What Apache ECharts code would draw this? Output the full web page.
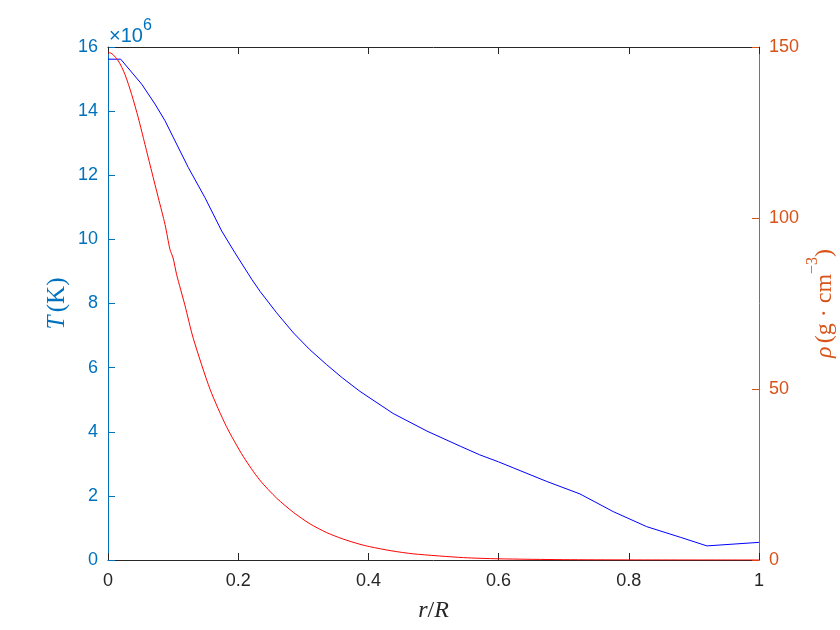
<!DOCTYPE html>
<html>
<head>
<meta charset="utf-8">
<script src="https://cdn.jsdelivr.net/npm/echarts@6/dist/echarts.min.js"></script>
<style>html,body{margin:0;padding:0;background:#fff}#c{width:840px;height:630px}</style>
</head>
<body>
<div id="c"></div>
<script>
// Temperature profile: r/R and T in units of 10^6 K
const rT = [0, 0.0195, 0.0518, 0.0722, 0.0876, 0.103, 0.1234, 0.149, 0.1747, 0.195, 0.221, 0.2335, 0.259, 0.285, 0.310, 0.336, 0.36, 0.387, 0.438, 0.49, 0.541, 0.571, 0.6, 0.623, 0.674, 0.725, 0.776, 0.8275, 0.879, 0.92, 1.0];
const T6 = [15.62, 15.62, 14.84, 14.22, 13.7, 13.07, 12.24, 11.3, 10.26, 9.58, 8.75, 8.38, 7.71, 7.08, 6.56, 6.09, 5.68, 5.26, 4.57, 4.02, 3.55, 3.28, 3.06, 2.87, 2.45, 2.06, 1.51, 1.04, 0.71, 0.44, 0.55];
// Density profile: r/R and rho in g cm^-3
const rRho = [0, 0.003, 0.0159, 0.026, 0.0364, 0.0465, 0.0568, 0.067, 0.0773, 0.0876, 0.0952, 0.1, 0.1055, 0.118, 0.131, 0.157, 0.182, 0.208, 0.233, 0.259, 0.285, 0.310, 0.336, 0.36, 0.387, 0.402, 0.435, 0.469, 0.546, 0.6, 0.7, 0.8, 0.9, 1.0];
const rho = [148.3, 148.3, 145.9, 142, 136.1, 129.3, 121.5, 113.7, 105.9, 98.1, 90.8, 88.3, 83.4, 74.6, 64.8, 49.8, 39.0, 30.2, 23.4, 18.1, 13.9, 10.6, 8.0, 6.2, 4.6, 3.9, 2.7, 1.8, 0.7, 0.35, 0.1, 0.03, 0.01, 0];
const xTicks = [0, 0.2, 0.4, 0.6, 0.8, 1];

const BLUE_AX = '#0072BD', ORANGE_AX = '#D95319', DARK = '#262626';
const tickFont = 'Liberation Sans';
const chart = echarts.init(document.getElementById('c'));
chart.setOption({
  animation: false,
  backgroundColor: '#fff',
  grid: {left: 108, right: 81, top: 47, bottom: 70, containLabel: false, outerBoundsMode: 'none'},
  graphic: [{
    type: 'text', left: 109, top: 18,
    style: {
      text: '{a|×10}{s|6}',
      rich: {
        a: {fontFamily: tickFont, fontSize: 20, fill: BLUE_AX, verticalAlign: 'bottom', lineHeight: 28},
        s: {fontFamily: tickFont, fontSize: 16, fill: BLUE_AX, verticalAlign: 'top', lineHeight: 28}
      }
    }
  }],
  xAxis: [{
    type: 'value', min: 0, max: 1, interval: 0.2, position: 'bottom',
    name: '{i|r}{n|/}{i|R}', nameLocation: 'middle', nameGap: 39, nameMoveOverlap: false,
    nameTextStyle: {rich: {
      i: {fontFamily: 'Liberation Serif', fontStyle: 'italic', fontSize: 24, color: DARK},
      n: {fontFamily: 'Liberation Serif', fontSize: 24, color: DARK}
    }},
    axisLine: {show: true, onZero: false, lineStyle: {color: DARK, width: 1}},
    axisTick: {show: true, inside: true, length: 7, lineStyle: {color: DARK}},
    axisLabel: {fontFamily: tickFont, fontSize: 18, color: DARK, margin: 12,
      formatter: v => String(Math.round(v * 10) / 10)},
    splitLine: {show: false}
  }, {
    type: 'value', min: 0, max: 1, interval: 0.2, position: 'top',
    axisLine: {show: true, onZero: false, lineStyle: {color: DARK, width: 1}},
    axisTick: {show: true, inside: true, length: 7, lineStyle: {color: DARK}},
    axisLabel: {show: false}, splitLine: {show: false}
  }],
  yAxis: [{
    type: 'value', min: 0, max: 16, interval: 2, position: 'left',
    name: '{i|T} {n|(K)}', nameLocation: 'middle', nameGap: 38, nameRotate: 90, nameMoveOverlap: false,
    nameTextStyle: {rich: {
      i: {fontFamily: 'Liberation Serif', fontStyle: 'italic', fontSize: 25, color: BLUE_AX},
      n: {fontFamily: 'Liberation Serif', fontSize: 25, color: BLUE_AX}
    }},
    axisLine: {show: true, onZero: false, lineStyle: {color: BLUE_AX, width: 1}},
    axisTick: {show: true, inside: true, length: 7, lineStyle: {color: BLUE_AX}},
    axisLabel: {fontFamily: tickFont, fontSize: 18, color: BLUE_AX, margin: 10},
    splitLine: {show: false}
  }, {
    type: 'value', min: 0, max: 150, interval: 50, position: 'right',
    name: '{i|ρ} {n|(g · cm}{s|−3}{n|)}', nameLocation: 'middle', nameGap: 46, nameRotate: 90, nameMoveOverlap: false,
    nameTextStyle: {rich: {
      i: {fontFamily: 'Liberation Serif', fontStyle: 'italic', fontSize: 24, color: ORANGE_AX, verticalAlign: 'bottom', lineHeight: 32},
      n: {fontFamily: 'Liberation Serif', fontSize: 24, color: ORANGE_AX, verticalAlign: 'bottom', lineHeight: 32},
      s: {fontFamily: 'Liberation Serif', fontSize: 16, color: ORANGE_AX, verticalAlign: 'top', lineHeight: 32}
    }},
    axisLine: {show: true, onZero: false, lineStyle: {color: ORANGE_AX, width: 1}},
    axisTick: {show: true, inside: true, length: 7, lineStyle: {color: ORANGE_AX}},
    axisLabel: {fontFamily: tickFont, fontSize: 18, color: ORANGE_AX, margin: 10},
    splitLine: {show: false}
  }],
  series: [{
    type: 'line', xAxisIndex: 0, yAxisIndex: 0, showSymbol: false,
    lineStyle: {color: '#0000FF', width: 1}, itemStyle: {color: '#0000FF'},
    data: rT.map((r, i) => [r, T6[i]])
  }, {
    type: 'line', xAxisIndex: 0, yAxisIndex: 1, showSymbol: false,
    smooth: 0.25,
    lineStyle: {color: '#FF0000', width: 1}, itemStyle: {color: '#FF0000'},
    data: rRho.map((r, i) => [r, rho[i]])
  }]
});
</script>
</body>
</html>
